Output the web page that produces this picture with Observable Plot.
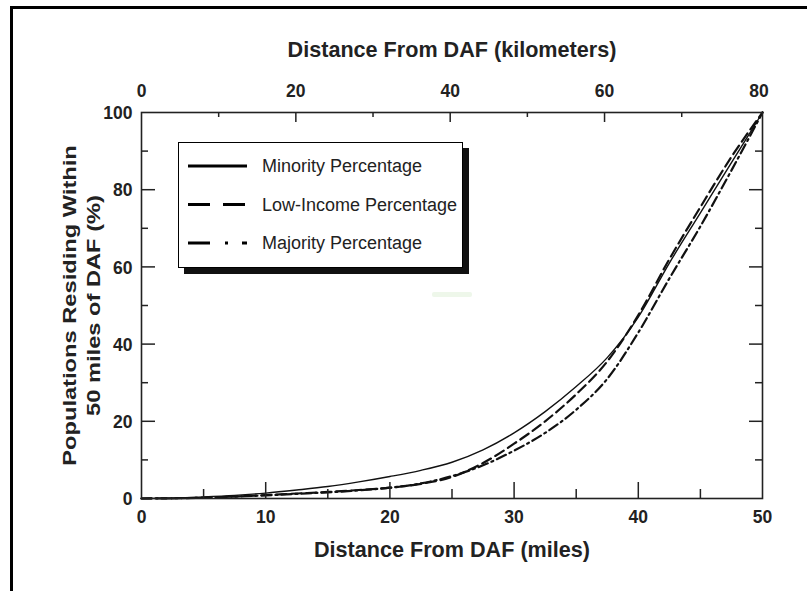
<!DOCTYPE html>
<html><head><meta charset="utf-8">
<script src="https://cdn.jsdelivr.net/npm/d3@7"></script>
<script src="https://cdn.jsdelivr.net/npm/@observablehq/plot@0.6"></script>
<style>
body{margin:0;width:807px;height:591px;overflow:hidden;background:#fff;position:relative;font-family:"Liberation Sans",Arial,sans-serif}
#border{position:absolute;left:10px;top:6px;width:900px;height:700px;border:3px solid #000;}
#chart{position:absolute;left:0;top:0}
#legend{position:absolute;left:178px;top:142px;width:283px;height:124px;border:1px solid #000;background:#fff;box-shadow:6px 6px 0 #111}
#smudge{position:absolute;left:432px;top:292px;width:40px;height:5px;background:#eef7ea;border-radius:2px}
</style></head>
<body>
<div id="border"></div>
<div id="smudge"></div>
<div id="chart"></div>
<div id="legend"></div>
<script>
// ---- data ----
const miles =     [0, 2.5, 5, 7.5, 10, 12.5, 15, 17.5, 20, 22.5, 25, 27.5, 30, 32.5, 35, 37.5, 40, 42.5, 45, 47.5, 50];
const minority =  [0, 0.1, 0.4, 0.8, 1.4, 2.2, 3.1, 4.3, 5.7, 7.3, 9.4, 12.6, 17, 22.5, 29, 36.5, 47, 61, 74, 87, 100];
const lowIncome = [0, 0.05, 0.2, 0.5, 0.9, 1.3, 1.7, 2.2, 2.8, 3.8, 5.6, 9.2, 14.2, 20, 27, 35.5, 47.5, 62, 75.5, 88.5, 100];
const majority =  [0, 0.05, 0.2, 0.5, 0.8, 1.2, 1.6, 2.1, 2.8, 3.9, 5.8, 8.6, 12.4, 17, 23, 31, 43, 57, 70.5, 85, 100];
const seriesNames = ["Minority Percentage", "Low-Income Percentage", "Majority Percentage"];
const milesTickLabels = [0, 10, 20, 30, 40, 50];
const milesMajorTicks = [10, 20, 30, 40];
const milesMinorTicks = [5, 15, 25, 35, 45];
const kmTickLabels = [0, 20, 40, 60, 80];
const kmMajorTicks = [20, 40, 60];
const kmMinorTicks = [10, 30, 50, 70];
const pctTickLabels = [0, 20, 40, 60, 80, 100];
const pctMajorTicks = [20, 40, 60, 80];
const pctMinorTicks = [10, 30, 50, 70, 90];
const xTitle = "Distance From DAF (miles)";
const x2Title = "Distance From DAF (kilometers)";
const yTitle = "Populations Residing Within\n50 miles of DAF (%)";
const KM_PER_MILE = 1.609344;

// ---- build ----
const styles = {
  "Minority Percentage": {dash: null, w: 1.4},
  "Low-Income Percentage": {dash: "10,5", w: 2.2},
  "Majority Percentage": {dash: "10,4,2,4", w: 2.2}
};
const seriesVals = [minority, lowIncome, majority];
const rows = [];
seriesNames.forEach((s, i) => miles.forEach((m, j) => rows.push({series: s, x: m, y: seriesVals[i][j]})));

const W = 807, H = 591, mL = 141, mR = 45, mT = 112, mB = 93;
const pw = W - mL - mR, ph = H - mT - mB;
const ink = "#222";
const font = "Liberation Sans, Arial, Helvetica, sans-serif";

const lineMarks = seriesNames.map(s => Plot.line(rows.filter(r => r.series === s), {
  x: "x", y: "y", curve: "monotone-x", stroke: "#111",
  strokeWidth: styles[s].w, strokeDasharray: styles[s].dash
}));

const chart = Plot.plot({
  width: W, height: H, marginLeft: mL, marginRight: mR, marginTop: mT, marginBottom: mB,
  x: {domain: [0, 50], axis: null},
  y: {domain: [0, 100], axis: null},
  style: {fontFamily: font, background: "transparent", color: ink},
  marks: [
    ...lineMarks,
    Plot.frame({stroke: ink, strokeWidth: 1.6}),
    // bottom ticks (inward)
    Plot.tickX(milesMajorTicks, {x: d => d, insetTop: ph - 16, stroke: ink, strokeWidth: 1.5}),
    Plot.tickX(milesMinorTicks, {x: d => d, insetTop: ph - 9, stroke: ink, strokeWidth: 1.5}),
    // top ticks (km)
    Plot.tickX(kmMajorTicks, {x: d => d / KM_PER_MILE, insetBottom: ph - 10, stroke: ink, strokeWidth: 1.5}),
    Plot.tickX(kmMinorTicks, {x: d => d / KM_PER_MILE, insetBottom: ph - 5, stroke: ink, strokeWidth: 1.5}),
    // left ticks
    Plot.tickY(pctMajorTicks, {y: d => d, insetRight: pw - 14, stroke: ink, strokeWidth: 1.5}),
    Plot.tickY(pctMinorTicks, {y: d => d, insetRight: pw - 7, stroke: ink, strokeWidth: 1.5}),
    // right ticks
    Plot.tickY(pctMajorTicks, {y: d => d, insetLeft: pw - 13, stroke: ink, strokeWidth: 1.5}),
    Plot.tickY(pctMinorTicks, {y: d => d, insetLeft: pw - 7, stroke: ink, strokeWidth: 1.5}),
    // tick labels
    Plot.text(milesTickLabels, {x: d => d, text: d => String(d), frameAnchor: "bottom", lineAnchor: "middle", dy: 19, fontSize: 17.5, fontWeight: "bold", fill: ink}),
    Plot.text(kmTickLabels, {x: d => d / KM_PER_MILE, text: d => String(d), frameAnchor: "top", lineAnchor: "middle", dy: -21, fontSize: 17.5, fontWeight: "bold", fill: ink}),
    Plot.text(pctTickLabels, {y: d => d, text: d => String(d), frameAnchor: "left", textAnchor: "end", lineAnchor: "middle", dx: -9, dy: 1, fontSize: 17.5, fontWeight: "bold", fill: ink}),
    // titles
    Plot.text([xTitle], {text: d => d, frameAnchor: "bottom", lineAnchor: "middle", dy: 52, fontSize: 21.6, fontWeight: "bold", fill: ink}),
    Plot.text([x2Title], {text: d => d, frameAnchor: "top", lineAnchor: "middle", dy: -62, fontSize: 21.6, fontWeight: "bold", fill: ink}),
    Plot.text([yTitle], {text: d => d, frameAnchor: "left", textAnchor: "middle", lineAnchor: "middle", rotate: -90, dx: -61, lineHeight: 1.3, fontSize: 18.5, fontWeight: "bold", fill: ink})
  ]
});
// stretch the rotated title along its length, as in the reference typesetting
d3.select(chart).selectAll("text")
  .filter(function() { return this.textContent.startsWith("Populations"); })
  .each(function() {
    const t = this.getAttribute("transform") || "";
    this.setAttribute("transform", t + " scale(1.28,1)");
  });
document.getElementById("chart").appendChild(chart);

// legend
const lg = d3.select("#legend").append("svg").attr("width", 283).attr("height", 124);
const legendDash = {"Minority Percentage": null, "Low-Income Percentage": "22,13", "Majority Percentage": "22,15,3,14"};
seriesNames.forEach((s, i) => {
  const yy = 23 + i * 38.5;
  lg.append("line").attr("x1", 9).attr("x2", 68).attr("y1", yy).attr("y2", yy)
    .attr("stroke", "#000").attr("stroke-width", 3.2).attr("stroke-dasharray", legendDash[s]);
  lg.append("text").attr("x", 83).attr("y", yy).attr("dy", "0.35em")
    .attr("font-family", font).attr("font-size", 18).attr("fill", ink).text(s);
});
</script>
</body></html>
